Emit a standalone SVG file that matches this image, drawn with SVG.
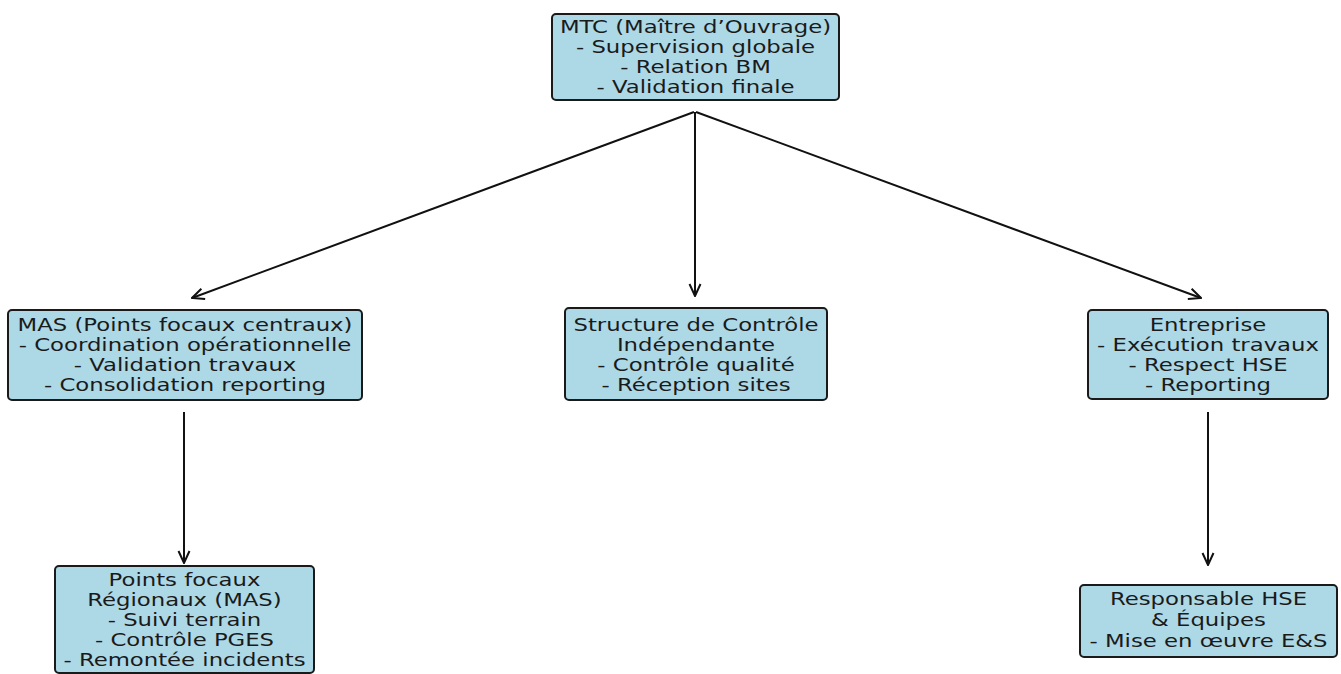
<svg xmlns="http://www.w3.org/2000/svg" width="1341" height="674" viewBox="0 0 1341 674">
<defs>
<marker id="arr" viewBox="0 0 14 14" refX="13" refY="7" markerWidth="14" markerHeight="14" markerUnits="userSpaceOnUse" orient="auto">
<path d="M1,1.5 L13,7 L1,12.5" fill="none" stroke="#111" stroke-width="2"/>
</marker>
<style>
.box{fill:#add8e6;stroke:#1a1a1a;stroke-width:2}
.t{font-family:"DejaVu Sans",sans-serif;font-size:17px;fill:#1a1a1a;text-anchor:middle}
.c{stroke:#111;stroke-width:2;fill:none;marker-end:url(#arr)}
</style>
</defs>
<rect width="1341" height="674" fill="#fff"/>
<g id="connectors">
<line class="c" x1="694" y1="112" x2="192" y2="298"/>
<line class="c" x1="695" y1="112" x2="695" y2="296"/>
<line class="c" x1="696" y1="112" x2="1201" y2="298"/>
<line class="c" x1="184" y1="412" x2="184" y2="563"/>
<line class="c" x1="1208" y1="412" x2="1208" y2="565"/>
</g>
<g id="mtc">
<rect class="box" x="552" y="14" width="287" height="86" rx="4"/>
<text class="t" transform="translate(695.5,0) scale(1.34,1)" x="0" y="33">MTC (Maître d’Ouvrage)<tspan x="0" dy="20">- Supervision globale</tspan><tspan x="0" dy="20">- Relation BM</tspan><tspan x="0" dy="20">- Validation finale</tspan></text>
</g>
<g id="mas">
<rect class="box" x="8" y="310" width="354" height="90" rx="4"/>
<text class="t" transform="translate(185,0) scale(1.34,1)" x="0" y="331">MAS (Points focaux centraux)<tspan x="0" dy="20">- Coordination opérationnelle</tspan><tspan x="0" dy="20">- Validation travaux</tspan><tspan x="0" dy="20">- Consolidation reporting</tspan></text>
</g>
<g id="controle">
<rect class="box" x="565" y="308" width="262" height="92" rx="4"/>
<text class="t" transform="translate(696,0) scale(1.34,1)" x="0" y="331">Structure de Contrôle<tspan x="0" dy="20">Indépendante</tspan><tspan x="0" dy="20">- Contrôle qualité</tspan><tspan x="0" dy="20">- Réception sites</tspan></text>
</g>
<g id="entreprise">
<rect class="box" x="1088" y="310" width="240" height="89" rx="4"/>
<text class="t" transform="translate(1208,0) scale(1.34,1)" x="0" y="331">Entreprise<tspan x="0" dy="20">- Exécution travaux</tspan><tspan x="0" dy="20">- Respect HSE</tspan><tspan x="0" dy="20">- Reporting</tspan></text>
</g>
<g id="points-focaux">
<rect class="box" x="55" y="566" width="259" height="107" rx="4"/>
<text class="t" transform="translate(184.5,0) scale(1.34,1)" x="0" y="586">Points focaux<tspan x="0" dy="20">Régionaux (MAS)</tspan><tspan x="0" dy="20">- Suivi terrain</tspan><tspan x="0" dy="20">- Contrôle PGES</tspan><tspan x="0" dy="20">- Remontée incidents</tspan></text>
</g>
<g id="responsable-hse">
<rect class="box" x="1080" y="585" width="257" height="72" rx="4"/>
<text class="t" transform="translate(1208.5,0) scale(1.34,1)" x="0" y="605">Responsable HSE<tspan x="0" dy="21">&amp; Équipes</tspan><tspan x="0" dy="21">- Mise en œuvre E&amp;S</tspan></text>
</g>
</svg>
